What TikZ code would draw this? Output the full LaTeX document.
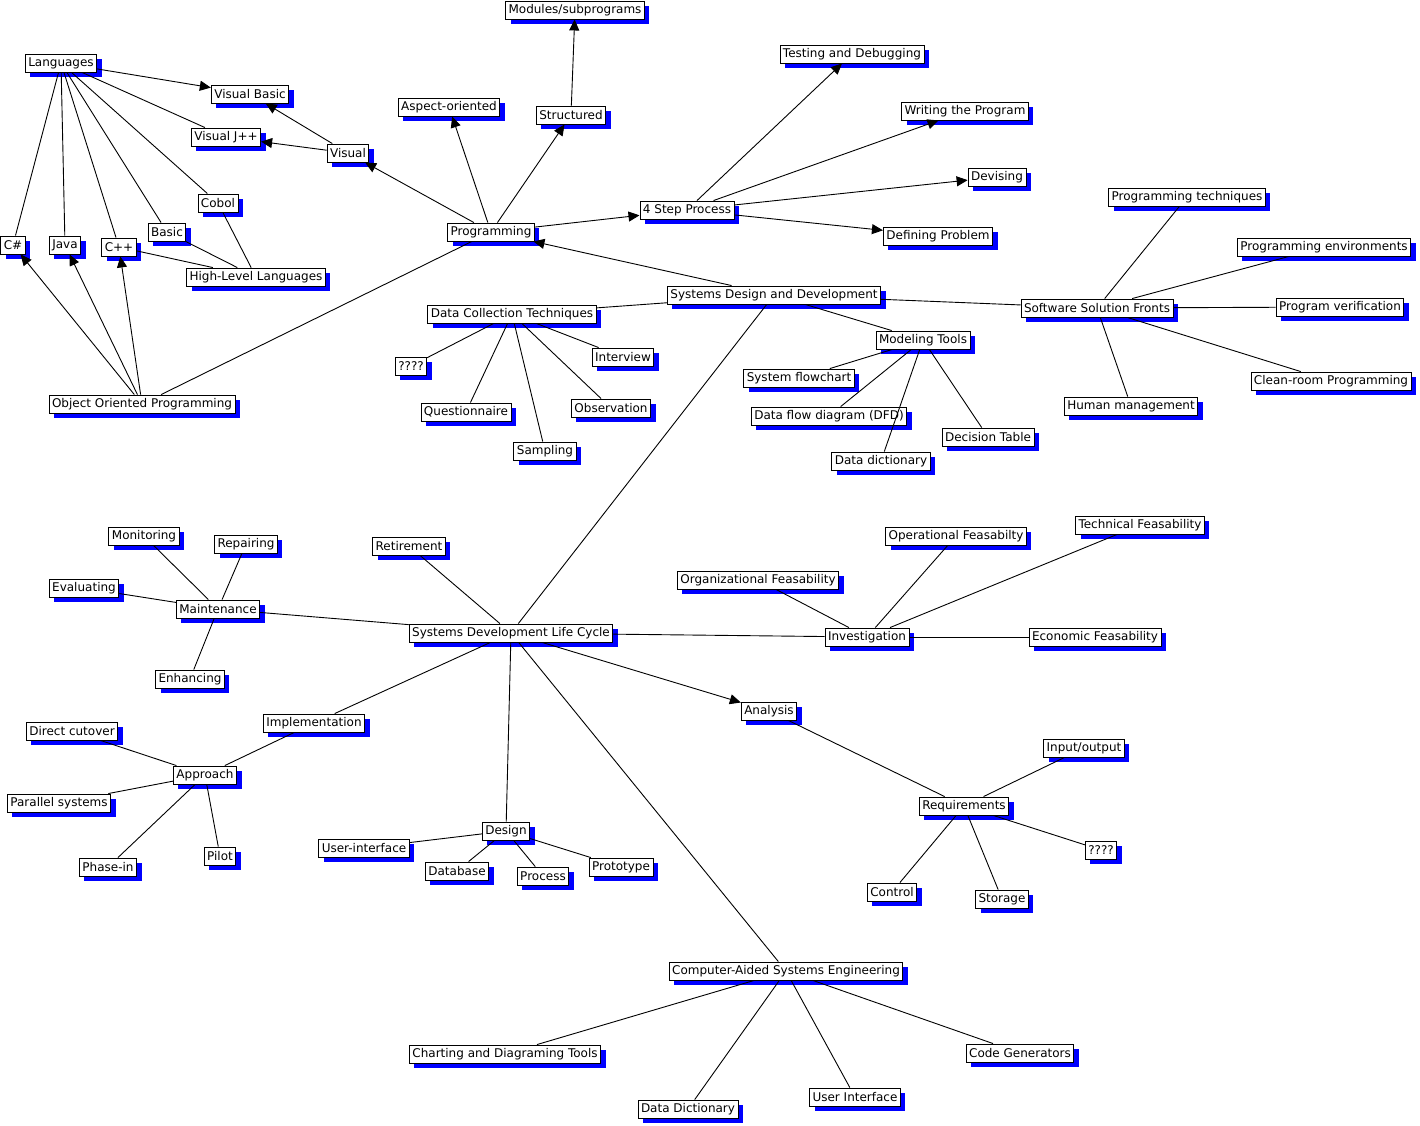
\documentclass[tikz,border=0pt]{standalone}
\usepackage{fontspec}
\setmainfont{DejaVu Sans}
\usetikzlibrary{shadows,arrows.meta}
\begin{document}
\begin{tikzpicture}[x=1pt,y=-1pt,
  box/.style={draw=black,fill=white,line width=0.9pt,inner xsep=3pt,inner ysep=0pt,minimum height=18pt,
    font=\fontsize{12}{14}\selectfont,
    drop shadow={shadow xshift=5pt,shadow yshift=-5pt,fill=blue,opacity=1}},
  ln/.style={draw=black,line width=0.9pt},
  ar/.style={ln,-{Triangle[length=11pt,width=10pt]}}]
\useasboundingbox[fill=white] (0,0) rectangle (1420,1125);
% top area
\node[box] (mod) at (575,10) {Modules/subprograms};
\node[box] (test) at (852,54) {Testing and Debugging};
\node[box] (lang) at (61,63) {Languages};
\node[box] (vb) at (250,94) {Visual Basic};
\node[box] (asp) at (449,107) {Aspect-oriented};
\node[box] (str) at (571,115) {Structured};
\node[box] (write) at (965,111) {Writing the Program};
\node[box] (vj) at (226,137) {Visual J++};
\node[box] (vis) at (348,153) {Visual};
\node[box] (dev) at (997,177) {Devising};
\node[box] (ptech) at (1187,197) {Programming techniques};
\node[box] (cobol) at (218,203) {Cobol};
\node[box] (four) at (687,210) {4 Step Process};
\node[box] (basic) at (167,232) {Basic};
\node[box] (prog) at (491,232) {Programming};
\node[box] (defp) at (938,236) {Defining Problem};
\node[box] (cs) at (13,245) {C\#};
\node[box] (java) at (65,245) {Java};
\node[box] (cpp) at (119,247) {C++};
\node[box] (penv) at (1324,247) {Programming environments};
\node[box] (hll) at (256,277) {High-Level Languages};
\node[box] (sdd) at (774,295) {Systems Design and Development};
\node[box] (ssf) at (1097,308) {Software Solution Fronts};
\node[box] (pver) at (1340,307) {Program verification};
\node[box] (dct) at (512,314) {Data Collection Techniques};
\node[box] (mt) at (923,340) {Modeling Tools};
\node[box] (intv) at (623,357) {Interview};
\node[box] (q1) at (411,366) {????};
\node[box] (sfc) at (799,378) {System flowchart};
\node[box] (clean) at (1331,381) {Clean-room Programming};
\node[box] (oop) at (142,404) {Object Oriented Programming};
\node[box] (hum) at (1131,406) {Human management};
\node[box] (obs) at (611,408) {Observation};
\node[box] (quest) at (466,412) {Questionnaire};
\node[box] (dfd) at (829,416) {Data flow diagram (DFD)};
\node[box] (dtab) at (988,437) {Decision Table};
\node[box] (samp) at (545,451) {Sampling};
\node[box] (ddict) at (881,461) {Data dictionary};
% middle
\node[box] (tech) at (1140,525) {Technical Feasability};
\node[box] (mon) at (144,536) {Monitoring};
\node[box] (oper) at (956,536) {Operational Feasabilty};
\node[box] (rep) at (246,544) {Repairing};
\node[box] (ret) at (409,546) {Retirement};
\node[box] (org) at (758,580) {Organizational Feasability};
\node[box] (eval) at (84,588) {Evaluating};
\node[box] (maint) at (218,609) {Maintenance};
\node[box] (sdlc) at (511,633) {Systems Development Life Cycle};
\node[box] (inv) at (867,637) {Investigation};
\node[box] (econ) at (1095,637) {Economic Feasability};
\node[box] (enh) at (190,679) {Enhancing};
\node[box] (ana) at (769,711) {Analysis};
\node[box] (impl) at (314,723) {Implementation};
\node[box] (direct) at (72,731) {Direct cutover};
\node[box] (io) at (1084,748) {Input/output};
\node[box] (appr) at (205,775) {Approach};
\node[box] (par) at (59,803) {Parallel systems};
\node[box] (req) at (964,806) {Requirements};
\node[box] (design) at (506,831) {Design};
\node[box] (ui) at (364,848) {User-interface};
\node[box] (pilot) at (220,856) {Pilot};
\node[box] (q2) at (1101,850) {????};
\node[box] (phase) at (108,867) {Phase-in};
\node[box] (proto) at (621,867) {Prototype};
\node[box] (db) at (457,871) {Database};
\node[box] (proc) at (543,876) {Process};
\node[box] (ctrl) at (892,892) {Control};
\node[box] (stor) at (1002,899) {Storage};
% bottom
\node[box] (case) at (786,971) {Computer-Aided Systems Engineering};
\node[box] (chart) at (505,1054) {Charting and Diagraming Tools};
\node[box] (codeg) at (1020,1053) {Code Generators};
\node[box] (uiface) at (855,1097) {User Interface};
\node[box] (ddic2) at (688,1109) {Data Dictionary};
% connectors
\draw[ar] (lang) -- (vb);
\draw[ln] (lang) -- (vj);
\draw[ln] (lang) -- (cobol);
\draw[ln] (lang) -- (basic);
\draw[ln] (lang) -- (cpp);
\draw[ln] (lang) -- (java);
\draw[ln] (lang) -- (cs);
\draw[ar] (vis) -- (vb);
\draw[ar] (vis) -- (vj);
\draw[ar] (prog) -- (vis);
\draw[ln] (cobol) -- (hll);
\draw[ln] (basic) -- (hll);
\draw[ln] (cpp) -- (hll);
\draw[ar] (oop) -- (cs);
\draw[ar] (oop) -- (java);
\draw[ar] (oop) -- (cpp);
\draw[ln] (prog) -- (oop);
\draw[ar] (prog) -- (asp);
\draw[ar] (prog) -- (str);
\draw[ar] (str) -- (mod);
\draw[ar] (prog) -- (four);
\draw[ar] (four) -- (test);
\draw[ar] (four) -- (write);
\draw[ar] (four) -- (dev);
\draw[ar] (four) -- (defp);
\draw[ar] (sdd) -- (prog);
\draw[ln] (sdd) -- (dct);
\draw[ln] (sdd) -- (mt);
\draw[ln] (sdd) -- (ssf);
\draw[ln] (sdlc) -- (sdd);
\draw[ln] (dct) -- (q1);
\draw[ln] (dct) -- (intv);
\draw[ln] (dct) -- (quest);
\draw[ln] (dct) -- (obs);
\draw[ln] (dct) -- (samp);
\draw[ln] (mt) -- (sfc);
\draw[ln] (mt) -- (dfd);
\draw[ln] (mt) -- (dtab);
\draw[ln] (mt) -- (ddict);
\draw[ln] (ssf) -- (ptech);
\draw[ln] (ssf) -- (penv);
\draw[ln] (ssf) -- (pver);
\draw[ln] (ssf) -- (clean);
\draw[ln] (ssf) -- (hum);
\draw[ln] (sdlc) -- (ret);
\draw[ln] (sdlc) -- (maint);
\draw[ln] (sdlc) -- (inv);
\draw[ar] (sdlc) -- (ana);
\draw[ln] (sdlc) -- (impl);
\draw[ln] (sdlc) -- (design);
\draw[ln] (sdlc) -- (case);
\draw[ln] (maint) -- (mon);
\draw[ln] (maint) -- (rep);
\draw[ln] (maint) -- (eval);
\draw[ln] (maint) -- (enh);
\draw[ln] (inv) -- (oper);
\draw[ln] (inv) -- (tech);
\draw[ln] (inv) -- (org);
\draw[ln] (inv) -- (econ);
\draw[ln] (ana) -- (req);
\draw[ln] (req) -- (io);
\draw[ln] (req) -- (q2);
\draw[ln] (req) -- (ctrl);
\draw[ln] (req) -- (stor);
\draw[ln] (impl) -- (appr);
\draw[ln] (appr) -- (direct);
\draw[ln] (appr) -- (par);
\draw[ln] (appr) -- (phase);
\draw[ln] (appr) -- (pilot);
\draw[ln] (design) -- (ui);
\draw[ln] (design) -- (db);
\draw[ln] (design) -- (proc);
\draw[ln] (design) -- (proto);
\draw[ln] (case) -- (chart);
\draw[ln] (case) -- (ddic2);
\draw[ln] (case) -- (uiface);
\draw[ln] (case) -- (codeg);
\end{tikzpicture}
\end{document}
